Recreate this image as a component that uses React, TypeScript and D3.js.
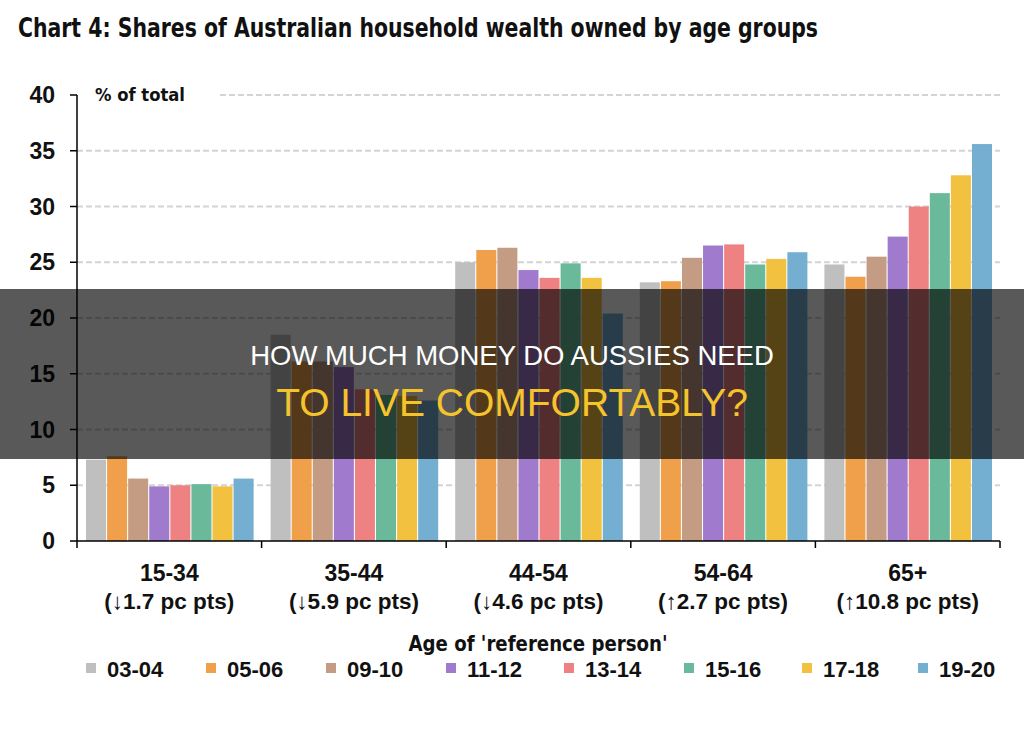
import React from "react";
import * as d3 from "d3";

// Age groups of the household reference person
const ageGroups = ["15-34", "35-44", "44-54", "54-64", "65+"];
const changeLabels = ["(↓1.7 pc pts)", "(↓5.9 pc pts)", "(↓4.6 pc pts)", "(↑2.7 pc pts)", "(↑10.8 pc pts)"];

// Survey years (series)
const years = ["03-04", "05-06", "09-10", "11-12", "13-14", "15-16", "17-18", "19-20"];
const yearColors = ["#bfbfbf", "#f0a04b", "#c49c84", "#a07acc", "#ee8282", "#69b99a", "#f3c140", "#74aed0"];

// Share of total household wealth (%) per age group, one array per survey year
const share0304 = [7.3, 18.5, 25.0, 23.2, 24.8];
const share0506 = [7.6, 16.1, 26.1, 23.3, 23.7];
const share0910 = [5.6, 16.1, 26.3, 25.4, 25.5];
const share1112 = [4.9, 15.6, 24.3, 26.5, 27.3];
const share1314 = [5.0, 13.6, 23.6, 26.6, 30.0];
const share1516 = [5.1, 13.1, 24.9, 24.8, 31.2];
const share1718 = [4.9, 13.0, 23.6, 25.3, 32.8];
const share1920 = [5.6, 12.6, 20.4, 25.9, 35.6];

const yTicks = [0, 5, 10, 15, 20, 25, 30, 35, 40];

const seriesValues = [share0304, share0506, share0910, share1112, share1314, share1516, share1718, share1920];

const W = 1024;
const H = 734;
const plot = { left: 77, right: 1000, top: 95, bottom: 541 };

const narrow = "'Liberation Sans Narrow', 'DejaVu Sans Condensed', 'Liberation Sans', Arial, sans-serif";
const bold = "'Liberation Sans', Arial, sans-serif";

export default function App() {
  const x0 = d3.scaleBand<string>().domain(ageGroups).range([plot.left, plot.right]).padding(0);
  const gw = x0.bandwidth();
  const x1 = d3.scaleBand<string>().domain(years).range([9, gw - 8]).paddingInner(0.05).paddingOuter(0);
  const y = d3.scaleLinear().domain([0, 40]).range([plot.bottom, plot.top]);

  const groupEdges = ageGroups.map((g) => x0(g) as number).concat([plot.right]);

  const legendX = [86, 206, 326, 446, 564, 684, 802, 918];

  return (
    <svg width={W} height={H} style={{ display: "block", position: "absolute", left: 0, top: 0 }}>
      <rect x={0} y={0} width={W} height={H} fill="#ffffff" />

      {/* title */}
      <text x={18} y={37} fontFamily={narrow} fontWeight="bold" fontSize={27} fill="#111"
        textLength={800} lengthAdjust="spacingAndGlyphs">
        Chart 4: Shares of Australian household wealth owned by age groups
      </text>

      {/* horizontal gridlines */}
      {yTicks.filter((t) => t > 0).map((t) => (
        <line key={"g" + t} x1={t === 40 ? 220 : plot.left} x2={plot.right} y1={y(t)} y2={y(t)}
          stroke="#d4d4d4" strokeWidth={2} strokeDasharray="6,3" />
      ))}

      {/* bars */}
      {ageGroups.map((g, gi) => (
        <g key={g} transform={`translate(${x0(g)},0)`}>
          {years.map((yr, si) => {
            const v = seriesValues[si][gi];
            return (
              <rect key={yr} x={x1(yr)} y={y(v)} width={x1.bandwidth()} height={y(0) - y(v)}
                fill={yearColors[si]} />
            );
          })}
        </g>
      ))}

      {/* y axis */}
      <line x1={plot.left} x2={plot.left} y1={plot.top} y2={plot.bottom} stroke="#000" strokeWidth={1.5} />
      {yTicks.map((t) => (
        <g key={"t" + t}>
          <line x1={plot.left - 7} x2={plot.left} y1={y(t)} y2={y(t)} stroke="#000" strokeWidth={1.5} />
          <text x={55} y={y(t) + 8} textAnchor="end" fontFamily={bold} fontWeight="bold" fontSize={23} fill="#111">
            {t}
          </text>
        </g>
      ))}
      <text x={95} y={y(40) + 6} fontFamily={narrow} fontWeight="bold" fontSize={18} fill="#111"
        textLength={90} lengthAdjust="spacingAndGlyphs">
        % of total
      </text>

      {/* x axis */}
      <line x1={plot.left} x2={plot.right} y1={plot.bottom} y2={plot.bottom} stroke="#000" strokeWidth={1.5} />
      {groupEdges.map((ex, i) => (
        <line key={"e" + i} x1={ex} x2={ex} y1={plot.bottom} y2={plot.bottom + 7} stroke="#000" strokeWidth={1.5} />
      ))}
      {ageGroups.map((g, gi) => {
        const cx = (x0(g) as number) + gw / 2;
        return (
          <g key={"l" + g}>
            <text x={cx} y={581} textAnchor="middle" fontFamily={bold} fontWeight="bold" fontSize={23} fill="#111">
              {g}
            </text>
            <text x={cx} y={609} textAnchor="middle" fontFamily={bold} fontWeight="bold" fontSize={22.5} fill="#111">
              {changeLabels[gi]}
            </text>
          </g>
        );
      })}
      <text x={538} y={651} textAnchor="middle" fontFamily={narrow} fontWeight="bold" fontSize={21} fill="#111"
        textLength={259} lengthAdjust="spacingAndGlyphs">
        Age of 'reference person'
      </text>

      {/* legend */}
      {years.map((yr, i) => (
        <g key={"lg" + yr}>
          <rect x={legendX[i]} y={663} width={10} height={10} fill={yearColors[i]} />
          <text x={legendX[i] + 21} y={677} fontFamily={bold} fontWeight="bold" fontSize={22} fill="#111">
            {yr}
          </text>
        </g>
      ))}

      {/* headline band */}
      <rect x={0} y={289} width={W} height={170} fill="rgba(0,0,0,0.65)" />
      <text x={512} y={365} textAnchor="middle" fontFamily={bold} fontSize={27.5} fill="#ffffff">
        HOW MUCH MONEY DO AUSSIES NEED
      </text>
      <text x={512} y={416} textAnchor="middle" fontFamily={bold} fontSize={39} fill="#f5c32c">
        TO LIVE COMFORTABLY?
      </text>
    </svg>
  );
}
